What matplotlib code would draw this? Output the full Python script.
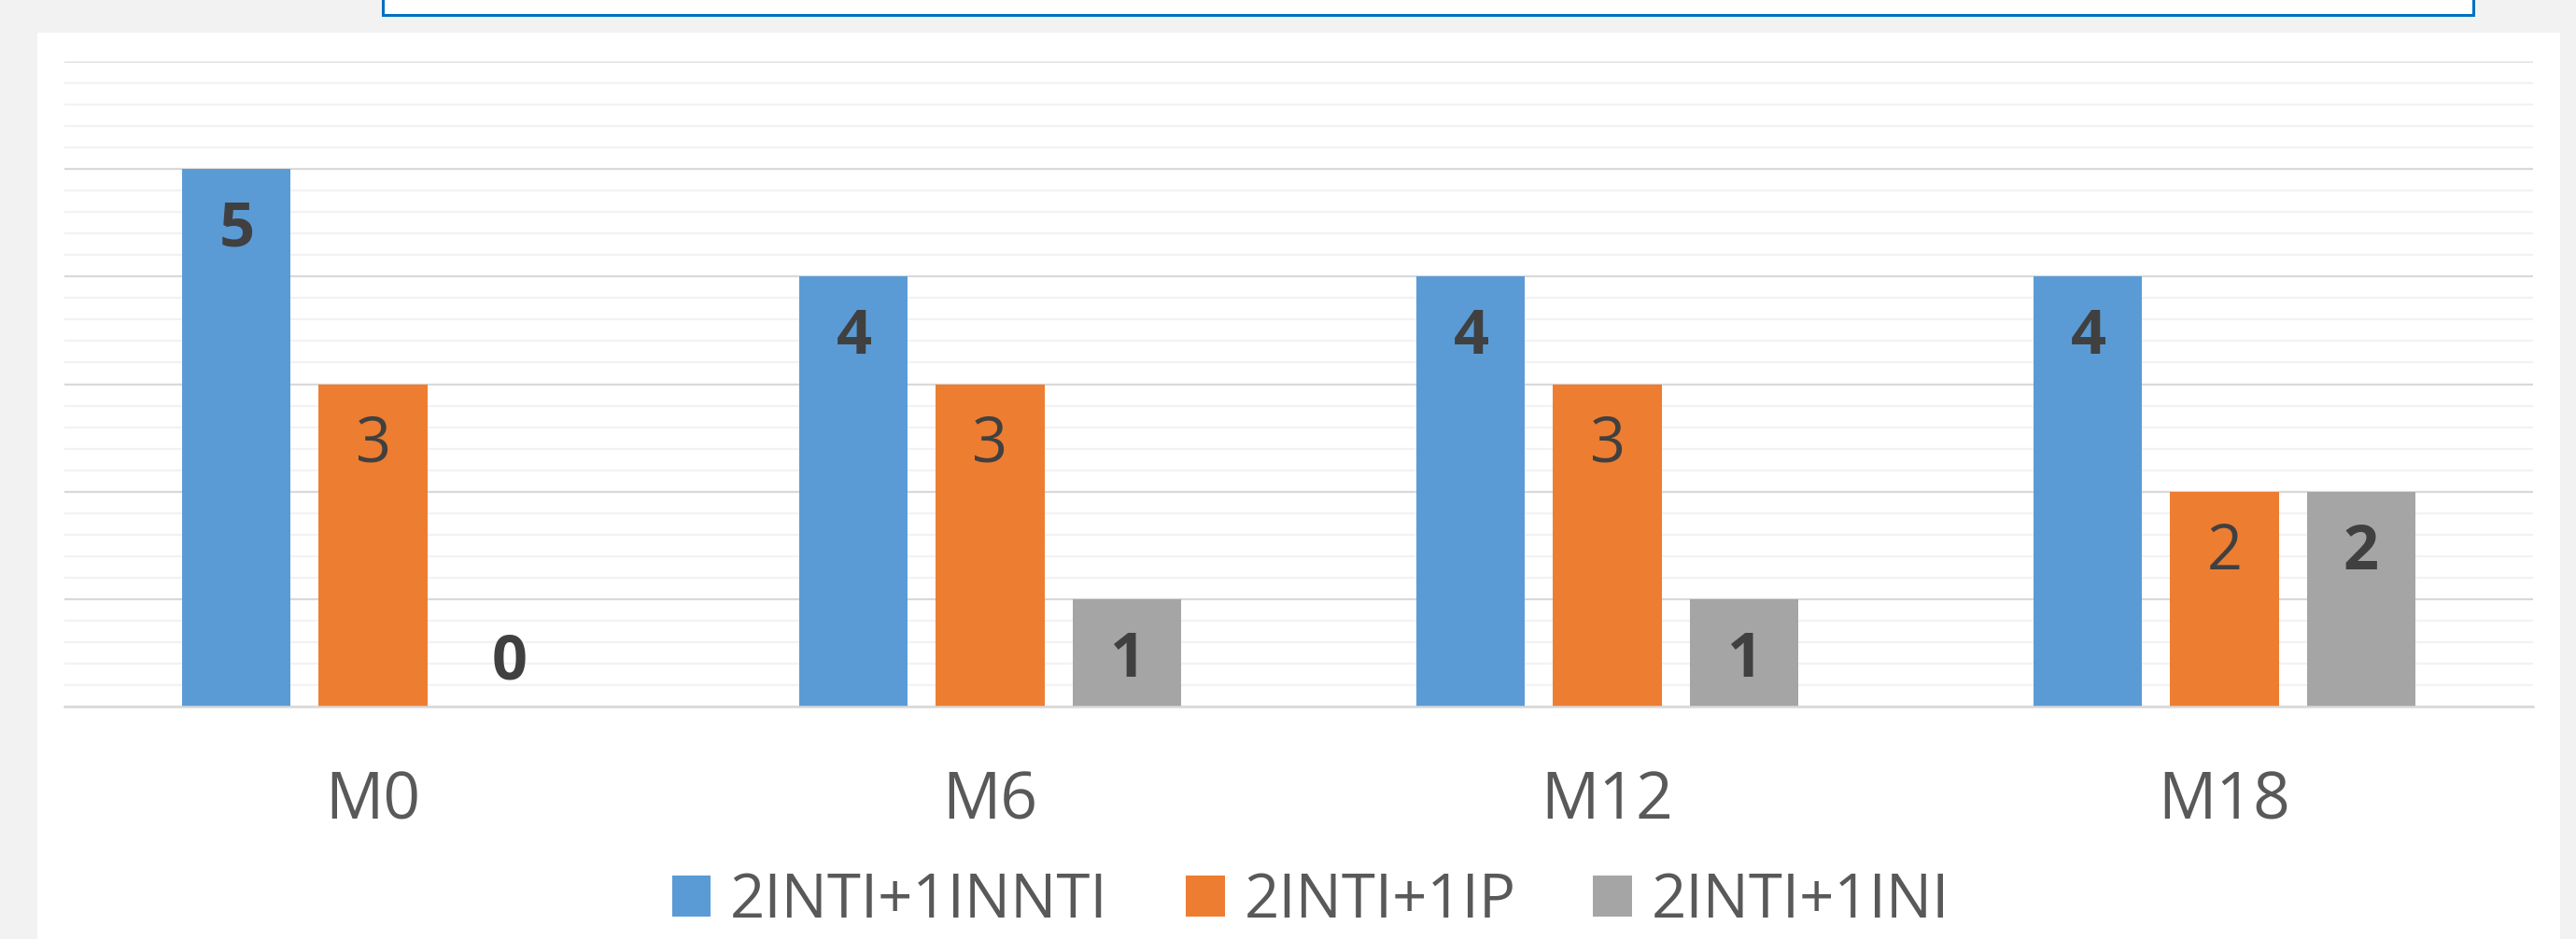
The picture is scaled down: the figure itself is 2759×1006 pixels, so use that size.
import matplotlib
matplotlib.use("Agg")
import matplotlib.pyplot as plt
from matplotlib.patches import Rectangle, Patch
from matplotlib.transforms import blended_transform_factory
import numpy as np

# Data
categories = ["M0", "M6", "M12", "M18"]
series_names = ["2INTI+1INNTI", "2INTI+1IP", "2INTI+1INI"]
series_values = {
    "2INTI+1INNTI": [5, 4, 4, 4],
    "2INTI+1IP": [3, 3, 3, 2],
    "2INTI+1INI": [0, 1, 1, 2],
}
series_colors = ["#5b9bd5", "#ed7d31", "#a5a5a5"]
label_weights = ["bold", "normal", "bold"]

W, H = 2759, 1006
fig = plt.figure(figsize=(W / 100, H / 100), dpi=100)
fig.patch.set_facecolor("#f2f2f2")

FONT = ["Open Sans", "DejaVu Sans"]

# white chart panel
fig.add_artist(Rectangle((40 / W, 0), (2742 - 40) / W, (1006 - 35) / H,
                         transform=fig.transFigure, facecolor="white",
                         edgecolor="none", zorder=0))
# title frame along the top edge
fig.add_artist(Rectangle((410 / W, 1 - 16 / H), (2649 - 410) / W, 0.2,
                         transform=fig.transFigure, facecolor="white",
                         edgecolor="#0070c0", linewidth=2.2, zorder=1,
                         clip_on=False))

y0, y6 = 757.3, 65.7
ax = fig.add_axes([69 / W, 1 - y0 / H, (2713 - 69) / W, (y0 - y6) / H])
ax.set_facecolor("none")
ax.set_xlim(-0.5, len(categories) - 0.5)
ax.set_ylim(0, 6)

# grid
ax.set_yticks(np.arange(0, 7, 1))
ax.set_yticks(np.arange(0, 6.01, 0.2), minor=True)
ax.grid(axis="y", which="minor", color="#f2f2f2", linewidth=1.6, zorder=0)
ax.grid(axis="y", which="major", color="#d9d9d9", linewidth=1.6, zorder=0)
ax.set_axisbelow(True)
for s in ["top", "right", "left"]:
    ax.spines[s].set_visible(False)
ax.spines["bottom"].set_color("#d9d9d9")
ax.spines["bottom"].set_linewidth(1.8)
ax.tick_params(axis="both", which="both", length=0, labelleft=False, labelbottom=False)

x = np.arange(len(categories))
bar_w = 0.1755
step = 0.221
handles = []
for i, name in enumerate(series_names):
    vals = series_values[name]
    xs = x + (i - 1) * step
    ax.bar(xs, vals, width=bar_w, color=series_colors[i], zorder=2)
    for xi, v in zip(xs, vals):
        yb = v - 0.72 if v > 0 else 0.26
        ax.text(xi, yb, f"{v}", ha="center", va="baseline", fontsize=48,
                fontweight=label_weights[i], color="#404040", family=FONT, zorder=3)
    handles.append(Patch(facecolor=series_colors[i], edgecolor="none"))

# category labels
tr = blended_transform_factory(ax.transData, fig.transFigure)
for xi, c in zip(x, categories):
    ax.text(xi, 1 - 877 / H, c, transform=tr, ha="center", va="baseline",
            fontsize=50, color="#595959", family=FONT)

fig.legend(handles, series_names, loc="center",
           bbox_to_anchor=(1404 / W, 1 - 966 / H), ncol=3, frameon=False,
           prop={"family": FONT, "size": 47}, labelcolor="#595959",
           handlelength=0.64, handleheight=0.64, handletextpad=0.32,
           columnspacing=1.27, borderaxespad=0, borderpad=0)

fig.savefig("out.png", dpi=100, facecolor=fig.get_facecolor())
